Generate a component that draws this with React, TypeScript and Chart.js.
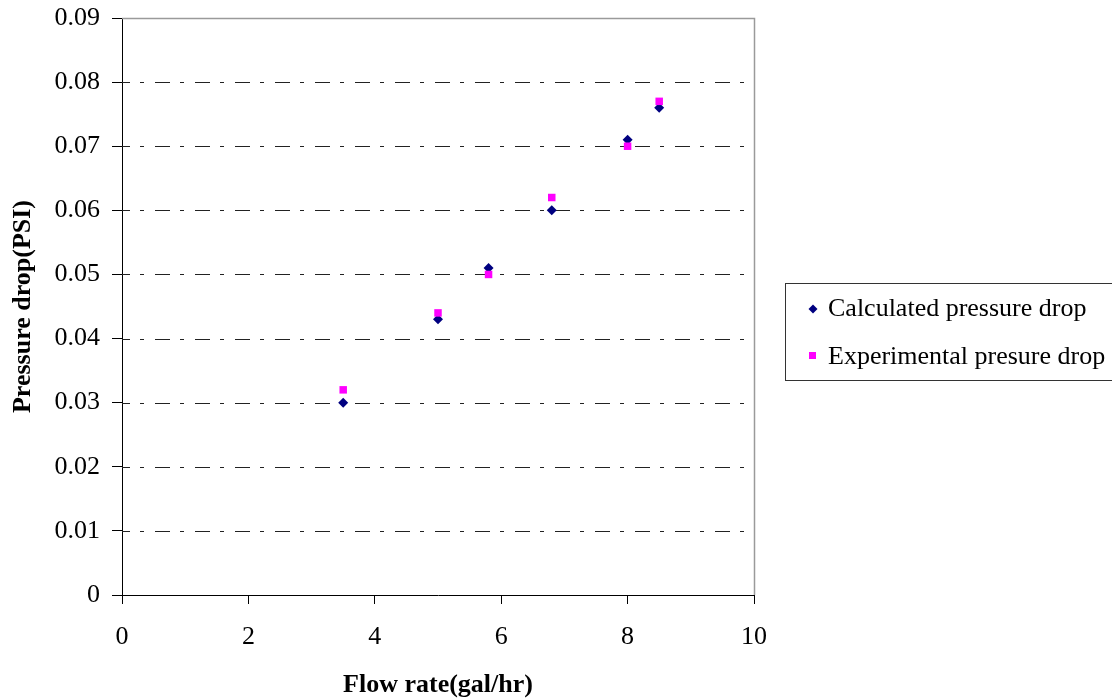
import React, { useEffect, useRef } from "react";
import { Chart, registerables } from "chart.js";

Chart.register(...registerables);

const flowRates = [3.5, 5, 5.8, 6.8, 8, 8.5];
const calculatedDrop = [0.03, 0.043, 0.051, 0.06, 0.071, 0.076];
const experimentalDrop = [0.032, 0.044, 0.05, 0.062, 0.07, 0.077];
const seriesNames = ["Calculated pressure drop", "Experimental presure drop"];
const xTitle = "Flow rate(gal/hr)";
const yTitle = "Pressure drop(PSI)";

const FONT = "'Liberation Serif', 'Times New Roman', serif";
const NAVY = "#000080";
const MAGENTA = "#FF00FF";

const gridPlugin = {
  id: "excelGrid",
  beforeDatasetsDraw(chart: any) {
    const { ctx, chartArea, scales } = chart;
    const y = scales.y;
    ctx.save();
    ctx.strokeStyle = "#222";
    ctx.lineWidth = 1;
    ctx.setLineDash([15, 10, 4, 11]);
    ctx.lineDashOffset = 7;
    y.ticks.forEach((t: any) => {
      if (t.value <= 0.0001 || t.value >= 0.0899) return;
      const py = Math.round(y.getPixelForValue(t.value)) + 0.5;
      ctx.beginPath();
      ctx.moveTo(chartArea.left, py);
      ctx.lineTo(chartArea.right, py);
      ctx.stroke();
    });
    ctx.setLineDash([]);
    ctx.strokeStyle = "#9a9a9a";
    ctx.lineWidth = 1.5;
    const top = Math.round(chartArea.top) + 0.5;
    const right = Math.round(chartArea.right) + 0.5;
    ctx.beginPath();
    ctx.moveTo(chartArea.left, top);
    ctx.lineTo(right, top);
    ctx.lineTo(right, chartArea.bottom);
    ctx.stroke();
    ctx.restore();
  },
  afterDraw(chart: any) {
    const { ctx } = chart;
    ctx.save();
    ctx.strokeStyle = "#333";
    ctx.lineWidth = 1;
    ctx.strokeRect(785.5, 283.5, 400, 97);
    ctx.fillStyle = NAVY;
    ctx.beginPath();
    ctx.moveTo(813, 304.5);
    ctx.lineTo(817.5, 309);
    ctx.lineTo(813, 313.5);
    ctx.lineTo(808.5, 309);
    ctx.closePath();
    ctx.fill();
    ctx.fillStyle = MAGENTA;
    ctx.fillRect(809, 352, 7, 7);
    ctx.fillStyle = "#000";
    ctx.font = `26px ${FONT}`;
    ctx.textBaseline = "alphabetic";
    ctx.textAlign = "left";
    ctx.fillText(seriesNames[0], 828, 316);
    ctx.fillText(seriesNames[1], 828, 364);
    ctx.restore();
  },
};

export default function App() {
  const ref = useRef<HTMLCanvasElement | null>(null);
  useEffect(() => {
    if (!ref.current) return;
    const chart = new Chart(ref.current, {
      type: "scatter",
      data: {
        datasets: [
          {
            label: seriesNames[0],
            data: flowRates.map((x, i) => ({ x, y: calculatedDrop[i] })),
            pointStyle: "rectRot",
            pointRadius: 5,
            backgroundColor: NAVY,
            borderColor: NAVY,
            borderWidth: 0,
            order: 1,
          },
          {
            label: seriesNames[1],
            data: flowRates.map((x, i) => ({ x, y: experimentalDrop[i] })),
            pointStyle: "rect",
            pointRadius: 5.3,
            backgroundColor: MAGENTA,
            borderColor: MAGENTA,
            borderWidth: 0,
            order: 0,
          },
        ],
      },
      options: {
        responsive: false,
        animation: false,
        devicePixelRatio: 1,
        layout: { padding: { left: 0, right: 358, top: 18, bottom: 0 } },
        plugins: { legend: { display: false }, tooltip: { enabled: false } },
        scales: {
          x: {
            type: "linear",
            min: 0,
            max: 10,
            ticks: {
              stepSize: 2,
              color: "#000",
              padding: 18,
              font: { family: FONT, size: 26 },
            },
            grid: {
              drawOnChartArea: false,
              drawTicks: true,
              tickLength: 9,
              tickColor: "#000",
            },
            border: { display: true, color: "#000", width: 1 },
            title: {
              display: true,
              text: xTitle,
              color: "#000",
              font: { family: FONT, size: 26, weight: "bold", lineHeight: 1.0 },
              padding: { top: 0, bottom: 0 },
            },
            afterFit(scale: any) {
              scale.height = 103;
              scale.paddingLeft = 0;
              scale.paddingRight = 0;
            },
          },
          y: {
            type: "linear",
            min: 0,
            max: 0.09,
            ticks: {
              stepSize: 0.01,
              color: "#000",
              padding: 12,
              font: { family: FONT, size: 26 },
              callback: (v: any) => (Number(v) === 0 ? "0" : Number(v).toFixed(2)),
            },
            grid: {
              drawOnChartArea: false,
              drawTicks: true,
              tickLength: 10,
              tickColor: "#000",
            },
            border: { display: true, color: "#000", width: 1 },
            title: {
              display: true,
              text: yTitle,
              color: "#000",
              font: { family: FONT, size: 26, weight: "bold" },
              padding: { top: 8, bottom: 0 },
            },
            afterFit(scale: any) {
              scale.width = 122;
              scale.paddingTop = 0;
              scale.paddingBottom = 0;
            },
          },
        },
      },
      plugins: [gridPlugin],
    } as any);
    return () => chart.destroy();
  }, []);
  return (
    <div style={{ position: "fixed", left: 0, top: 0, width: 1112, height: 698, background: "#fff" }}>
      <canvas ref={ref} width={1112} height={698} style={{ width: 1112, height: 698 }} />
    </div>
  );
}
